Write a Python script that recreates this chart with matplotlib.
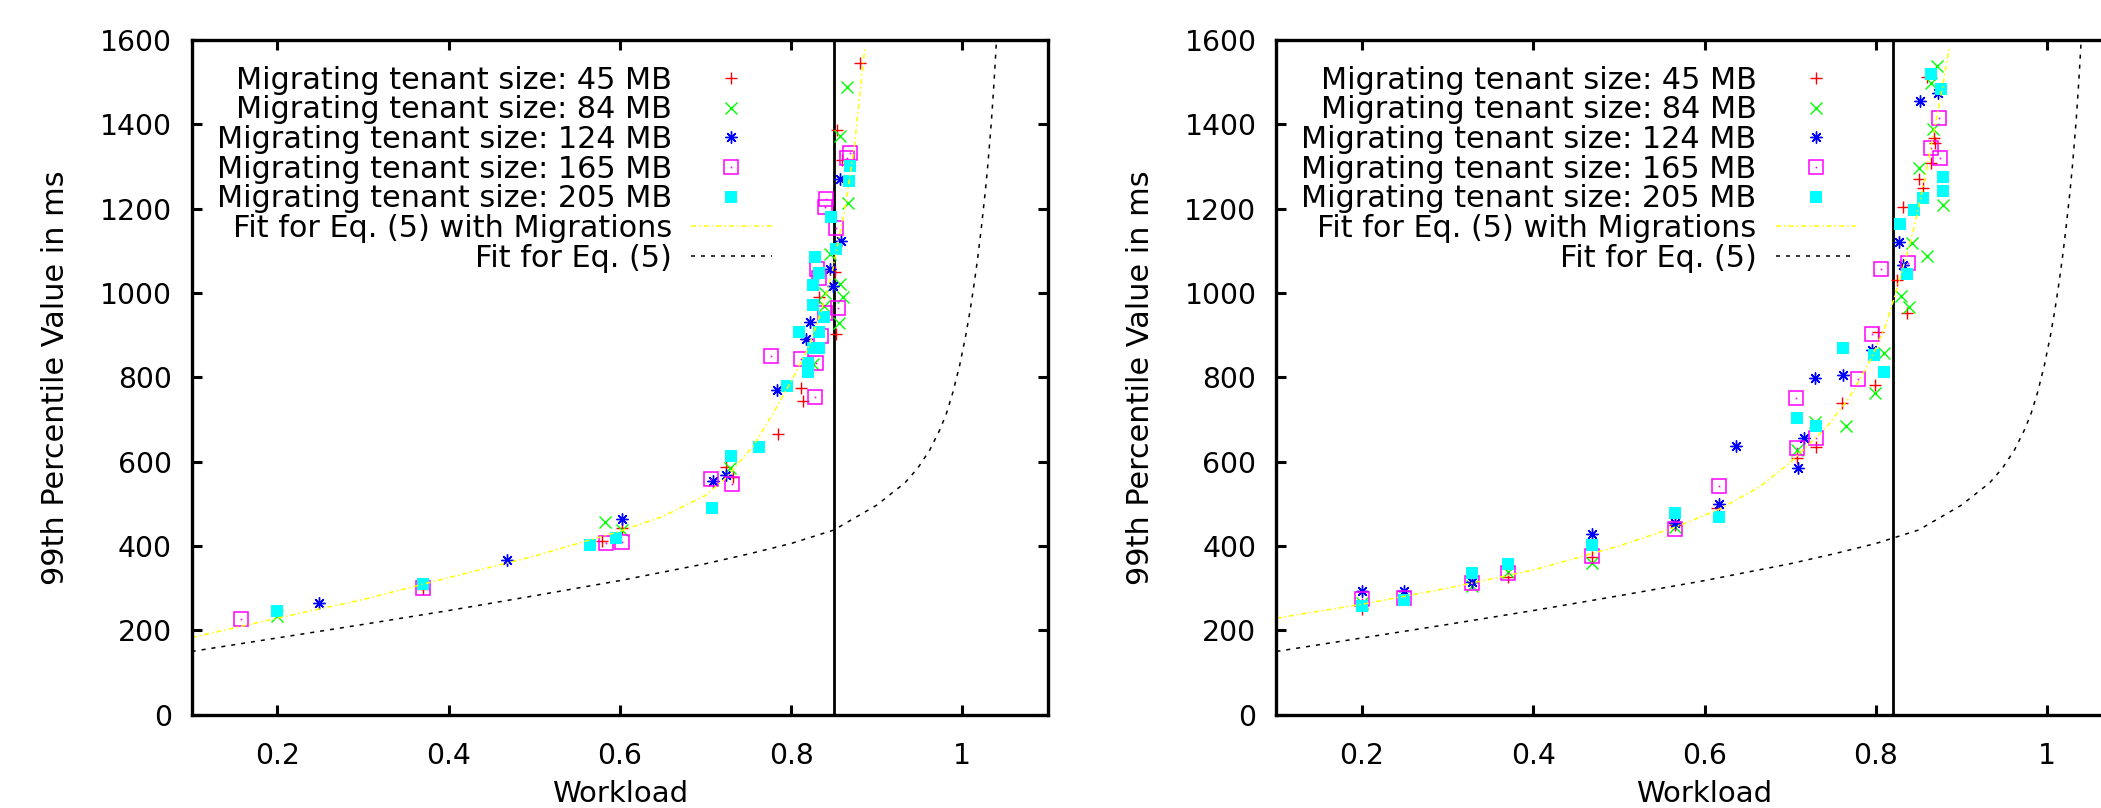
import matplotlib
matplotlib.use("Agg")
import matplotlib.pyplot as plt
from matplotlib.legend_handler import HandlerTuple

plt.rcParams['font.family'] = ['DejaVu Sans']
plt.rcParams['lines.scale_dashes'] = False

# ---------------- data ----------------
series_labels = [
    "Migrating tenant size: 45 MB",
    "Migrating tenant size: 84 MB",
    "Migrating tenant size: 124 MB",
    "Migrating tenant size: 165 MB",
    "Migrating tenant size: 205 MB",
]
fit_labels = ["Fit for Eq. (5) with Migrations", "Fit for Eq. (5)"]

x_ticks = [0.2, 0.4, 0.6, 0.8, 1.0]
x_tick_labels = ["0.2", "0.4", "0.6", "0.8", "1"]
y_ticks = [0, 200, 400, 600, 800, 1000, 1200, 1400, 1600]

# left panel: workload limit 0.85
left_limit = 0.85
left_45_x = [0.37, 0.579, 0.603, 0.724, 0.732, 0.785, 0.812, 0.814, 0.833, 0.851, 0.852, 0.859, 0.854, 0.881]
left_45_y = [298, 412, 443, 587, 563, 665, 774, 745, 991, 1050, 903, 1315, 1387, 1545]
left_84_x = [0.2, 0.583, 0.603, 0.729, 0.826, 0.838, 0.839, 0.846, 0.857, 0.861, 0.856, 0.866, 0.857, 0.865]
left_84_y = [234, 457, 438, 585, 832, 970, 999, 1092, 1022, 991, 928, 1213, 1373, 1489]
left_124_x = [0.249, 0.468, 0.603, 0.709, 0.724, 0.783, 0.817, 0.822, 0.846, 0.849, 0.858, 0.857]
left_124_y = [264, 367, 463, 555, 568, 770, 890, 932, 1058, 1017, 1124, 1270]
left_165_x = [0.157, 0.37, 0.584, 0.603, 0.706, 0.731, 0.776, 0.812, 0.828, 0.829, 0.835, 0.839,
              0.855, 0.833, 0.83, 0.853, 0.839, 0.841, 0.865, 0.869]
left_165_y = [226, 300, 406, 410, 560, 546, 851, 843, 754, 833, 898, 952,
              964, 1035, 1056, 1155, 1205, 1224, 1319, 1331]
left_205_x = [0.2, 0.37, 0.565, 0.596, 0.708, 0.73, 0.763, 0.795, 0.809, 0.82, 0.82, 0.826,
              0.833, 0.838, 0.826, 0.825, 0.833, 0.828, 0.852, 0.847, 0.868, 0.869, 0.833]
left_205_y = [246, 309, 402, 420, 491, 613, 636, 780, 908, 813, 834, 869,
              869, 942, 972, 1019, 1048, 1086, 1104, 1181, 1266, 1301, 908]

# right panel: workload limit 0.82
right_limit = 0.82
right_45_x = [0.2, 0.371, 0.469, 0.566, 0.615, 0.708, 0.73, 0.761, 0.799, 0.803, 0.825, 0.837,
              0.832, 0.85, 0.855, 0.864, 0.868, 0.869, 0.86]
right_45_y = [250, 327, 374, 450, 490, 608, 636, 738, 782, 908, 1031, 952,
              1205, 1270, 1248, 1308, 1367, 1355, 1513]
right_84_x = [0.2, 0.329, 0.371, 0.469, 0.566, 0.708, 0.729, 0.765, 0.799, 0.809, 0.829, 0.839,
              0.842, 0.86, 0.879, 0.851, 0.867, 0.864, 0.871]
right_84_y = [265, 305, 338, 360, 445, 628, 695, 685, 764, 857, 993, 968,
              1118, 1088, 1209, 1297, 1388, 1497, 1538]
right_124_x = [0.2, 0.249, 0.329, 0.469, 0.566, 0.617, 0.637, 0.709, 0.716, 0.729, 0.762, 0.796,
               0.832, 0.827, 0.852, 0.873]
right_124_y = [294, 293, 315, 428, 454, 500, 637, 584, 655, 798, 806, 865,
               1066, 1122, 1456, 1475]
right_165_x = [0.2, 0.249, 0.329, 0.371, 0.469, 0.566, 0.617, 0.708, 0.707, 0.73, 0.779, 0.796,
               0.806, 0.838, 0.865, 0.875, 0.874]
right_165_y = [274, 277, 313, 335, 376, 440, 543, 632, 750, 655, 795, 903,
               1056, 1072, 1343, 1319, 1414]
right_205_x = [0.2, 0.249, 0.329, 0.371, 0.469, 0.566, 0.617, 0.708, 0.73, 0.762, 0.798, 0.809,
               0.837, 0.828, 0.845, 0.855, 0.878, 0.878, 0.876, 0.864]
right_205_y = [258, 272, 335, 357, 402, 479, 468, 703, 685, 870, 853, 813,
               1045, 1163, 1197, 1226, 1243, 1276, 1483, 1519]

# fitted curves
left_fit_mig_x = [0.1, 0.2, 0.3, 0.4, 0.5, 0.6, 0.65, 0.7, 0.723, 0.755, 0.779, 0.8, 0.819,
                  0.835, 0.848, 0.864, 0.874, 0.886]
left_fit_mig_y = [183, 229, 273, 325, 376, 435, 470, 520, 560, 635, 715, 790, 865,
                  955, 1050, 1213, 1350, 1580]
right_fit_mig_x = [0.1, 0.2, 0.3, 0.4, 0.5, 0.566, 0.617, 0.664, 0.7, 0.743, 0.77, 0.793,
                   0.811, 0.821, 0.836, 0.844, 0.854, 0.866, 0.878, 0.886]
right_fit_mig_y = [229, 262, 300, 343, 400, 445, 487, 540, 598, 683, 755, 838,
                   920, 985, 1090, 1150, 1240, 1363, 1489, 1584]
fit_base_x = [0.1, 0.2, 0.3, 0.4, 0.5, 0.6, 0.7, 0.75, 0.8, 0.85, 0.9, 0.933, 0.948, 0.962,
              0.9735, 0.981, 0.989, 0.997, 1.004, 1.009, 1.014, 1.018, 1.022, 1.027, 1.03,
              1.034, 1.037, 1.039, 1.0415]
fit_base_y = [150, 182, 214, 247, 282, 318, 358, 381, 406, 438, 497, 550, 585, 628,
              675, 712, 765, 830, 900, 958, 1025, 1085, 1152, 1245, 1310,
              1410, 1500, 1570, 1660]

# ---------------- styles ----------------
point_styles = [
    dict(marker='+', color='#ff0000', markersize=8.6, markeredgewidth=1.0),
    dict(marker='x', color='#00ff00', markersize=8.6, markeredgewidth=1.0),
    dict(marker=(8, 2, 0), color='#0000ff', markersize=8.6, markeredgewidth=1.0),
    dict(marker='s', color='#ff00ff', markerfacecolor='none', markersize=9.4, markeredgewidth=1.1),
    dict(marker='s', color='#00ffff', markersize=8.7, markeredgewidth=0),
]
fit_mig_style = dict(color='#ffff00', linewidth=1.1, linestyle=(0, (3.6, 2.2, 1.1, 2.2)))
fit_base_style = dict(color='#000000', linewidth=1.1, linestyle=(0, (2.9, 4.3)))

FS_TICK = 20.3
FS_XLABEL = 21.0
FS_YLABEL = 21.9
FS_LEGEND = 21.8


def draw_panel(ax, xs_list, ys_list, fit_mig, fit_base, limit):
    handles = []
    for xs, ys, st in zip(xs_list, ys_list, point_styles):
        h, = ax.plot(xs, ys, linestyle='none', **st)
        if st['marker'] == 's' and st.get('markerfacecolor') == 'none':
            # small centre dot inside the open squares
            dot, = ax.plot(xs, ys, linestyle='none', marker='s', markersize=1.2,
                           markeredgewidth=0, color=st['color'])
            handles.append((h, dot))
        else:
            handles.append(h)
    h1, = ax.plot(fit_mig[0], fit_mig[1], **fit_mig_style)
    h2, = ax.plot(fit_base[0], fit_base[1], **fit_base_style)
    handles += [h1, h2]
    ax.axvline(limit, color='black', linewidth=2.0, zorder=1.5)

    ax.set_xlim(0.1, 1.1)
    ax.set_ylim(0, 1600)
    ax.set_xticks(x_ticks)
    ax.set_xticklabels(x_tick_labels)
    ax.set_yticks(y_ticks)
    ax.tick_params(direction='in', length=7.2, width=2.2, top=True, right=True,
                   labelsize=FS_TICK)
    ax.tick_params(axis='x', pad=20.0)
    ax.tick_params(axis='y', pad=14.4)
    for sp in ax.spines.values():
        sp.set_linewidth(2.4)
    ax.set_xlabel("Workload", fontsize=FS_XLABEL, labelpad=7)
    ax.set_ylabel("99th Percentile Value in ms", fontsize=FS_YLABEL, labelpad=21)

    ax.legend(handles, series_labels + fit_labels, loc='upper right',
              bbox_to_anchor=(0.6773, 0.9622), frameon=False, markerfirst=False,
              fontsize=FS_LEGEND, handlelength=2.67, handletextpad=0.63,
              labelspacing=0.023, borderpad=0, borderaxespad=0, numpoints=1,
              handler_map={tuple: HandlerTuple(ndivide=1)})


W, H = 2101, 808
fig = plt.figure(figsize=(W / 100, H / 100), dpi=100)
ax_w = 856.3 / W
ax_h = 674.7 / H
ax_b = 1 - 714.7 / H
ax_left = fig.add_axes([191.7 / W, ax_b, ax_w, ax_h])
ax_right = fig.add_axes([1276.4 / W, ax_b, ax_w, ax_h])

draw_panel(ax_left,
           [left_45_x, left_84_x, left_124_x, left_165_x, left_205_x],
           [left_45_y, left_84_y, left_124_y, left_165_y, left_205_y],
           (left_fit_mig_x, left_fit_mig_y), (fit_base_x, fit_base_y), left_limit)
draw_panel(ax_right,
           [right_45_x, right_84_x, right_124_x, right_165_x, right_205_x],
           [right_45_y, right_84_y, right_124_y, right_165_y, right_205_y],
           (right_fit_mig_x, right_fit_mig_y), (fit_base_x, fit_base_y), right_limit)

fig.savefig("out.png", dpi=100)
